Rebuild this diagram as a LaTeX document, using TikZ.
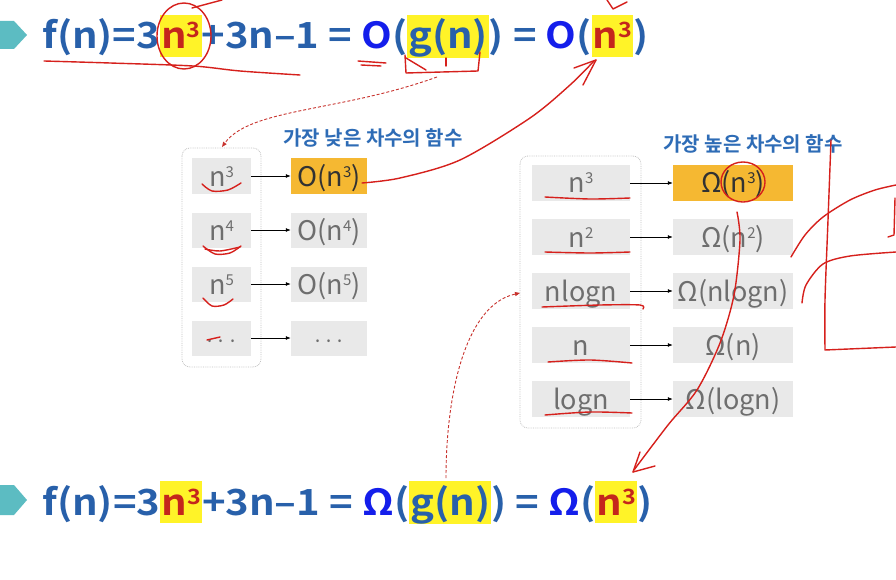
\documentclass[tikz,border=0pt]{standalone}
\usepackage{fontspec}
\usepackage{graphicx}
\setmainfont{Noto Sans CJK KR}[BoldFont={Noto Sans CJK KR Bold}]
\usetikzlibrary{arrows.meta}
\definecolor{fblue}{RGB}{40,96,170}
\definecolor{obright}{RGB}{20,30,235}
\definecolor{fred}{RGB}{196,38,28}
\definecolor{hly}{RGB}{255,243,40}
\definecolor{teal}{RGB}{92,188,194}
\definecolor{lblue}{RGB}{46,108,182}
\definecolor{boxgray}{RGB}{233,233,233}
\definecolor{boxorange}{RGB}{245,184,50}
\definecolor{txtgray}{RGB}{110,110,110}
\definecolor{annred}{RGB}{214,32,28}
\definecolor{dashred}{RGB}{200,50,45}
\definecolor{framegray}{RGB}{195,195,195}
\newcommand{\hl}[1]{{\setlength{\fboxsep}{0pt}\colorbox{hly}{\kern1pt\rule[-8pt]{0pt}{42pt}#1\kern1pt}}}
\newcommand{\supf}[1]{\raisebox{11pt}{\fontsize{21}{21}\selectfont #1}}
\newcommand{\supi}[1]{\raisebox{9pt}{\fontsize{15}{15}\selectfont #1}}
\tikzset{
  marker/.style={fill=teal, draw=none},
  formula/.style={anchor=base west, inner sep=0pt, text=fblue, font=\bfseries\fontsize{36}{36}\selectfont},
  lbl/.style={inner sep=0pt, text=lblue, font=\bfseries\fontsize{20}{20}\selectfont},
  grp/.style={draw=framegray, densely dotted, line width=0.8pt, rounded corners=8pt},
  itemL/.style={fill=boxgray, inner sep=0pt, text=txtgray, minimum width=59pt, text height=27.5pt, text depth=7.5pt, font=\fontsize{27}{27}\selectfont},
  resL/.style={itemL, minimum width=76pt},
  itemR/.style={fill=boxgray, inner sep=0pt, text=txtgray, minimum width=98pt, text height=28pt, text depth=8pt, font=\fontsize{27}{27}\selectfont},
  resR/.style={itemR, minimum width=120pt},
  hot/.style={fill=boxorange, text={rgb,255:red,50;green,50;blue,50}},
  conn/.style={draw=black, line width=0.8pt, -{Latex[length=5pt,width=4pt]}},
  ann/.style={draw=annred, line width=1.4pt, line cap=round, line join=round},
  dsh/.style={draw=dashred, line width=0.9pt, densely dashed, -{Triangle[length=5pt,width=4pt]}}
}
\begin{document}
\begin{tikzpicture}[x=1pt,y=-1pt]
\useasboundingbox (0,0) rectangle (896,580);
\fill[white] (0,0) rectangle (896,580);
% markers
\fill[marker] (0,21) -- (14,21) -- (27,35) -- (14,49) -- (0,49) -- cycle;
\fill[marker] (0,485) -- (14,485) -- (27,500) -- (14,515) -- (0,515) -- cycle;
% formulas
\node[formula] (f1) at (42,49) {\resizebox{606pt}{\height}{f(n)=3\hl{\textcolor{fred}{n\supf{3}}}+3n–1 = \textcolor{obright}{O}(\hl{g(n)}) = \textcolor{obright}{O}(\hl{\textcolor{fred}{n\supf{3}}})}};
\node[formula] (f2) at (42,515) {\resizebox{610pt}{\height}{f(n)=3\hl{\textcolor{fred}{n\supf{3}}}+3n–1 = \textcolor{obright}{Ω}(\hl{g(n)}) = \textcolor{obright}{Ω}(\hl{\textcolor{fred}{n\supf{3}}})}};
% labels
\node[lbl] (lab1) at (373,138) {가장 낮은 차수의 함수};
\node[lbl] (lab2) at (753,144) {가장 높은 차수의 함수};
% left group
\draw[grp] (182,148) rectangle (261,367);
\node[itemL] (a1) at (221.5,176) {n\supi{3}};
\node[itemL] (a2) at (221.5,230) {n\supi{4}};
\node[itemL] (a3) at (221.5,284) {n\supi{5}};
\node[itemL] (a4) at (221.5,338) {\fontsize{20}{20}\selectfont ···};
\node[resL,hot] (b1) at (329,176) {O(n\supi{3})};
\node[resL] (b2) at (329,230) {O(n\supi{4})};
\node[resL] (b3) at (329,284) {O(n\supi{5})};
\node[resL] (b4) at (329,338) {\fontsize{20}{20}\selectfont ···};
\foreach \i in {1,2,3,4} \draw[conn] (a\i) -- (b\i);
% right group
\draw[grp] (520,156) rectangle (641,428);
\node[itemR] (c1) at (581,183) {n\supi{3}};
\node[itemR] (c2) at (581,237) {n\supi{2}};
\node[itemR] (c3) at (581,291) {nlogn};
\node[itemR] (c4) at (581,345) {n};
\node[itemR] (c5) at (581,399) {logn};
\node[resR,hot] (d1) at (733,183) {Ω(n\supi{3})};
\node[resR] (d2) at (733,237) {Ω(n\supi{2})};
\node[resR] (d3) at (733,291) {Ω(nlogn)};
\node[resR] (d4) at (733,345) {Ω(n)};
\node[resR] (d5) at (733,399) {Ω(logn)};
\foreach \i in {1,2,3,4,5} \draw[conn] (c\i) -- (d\i);
% dashed arrows
\coordinate (gtop) at (437,77);
\coordinate (gbot) at (446,478);
\draw[dsh] (gtop) .. controls (340,112) and (250,108) .. (222,147);
\draw[dsh] (gbot) .. controls (446,395) and (465,305) .. (520,293);
% handwritten annotations: top formula
\draw[ann] plot[smooth] coordinates {(44,61) (110,63) (193,66) (240,71) (300,75)};
\draw[ann] (184,36) ellipse [x radius=27, y radius=33];
\draw[ann] (192,8) -- (222,0);
\draw[ann] (358,61) -- (386,63);
\draw[ann] (361,65) -- (381,66);
\draw[ann] (405,55) -- (406,73) -- (478,71) -- (480,52);
\draw[ann] (406,58) -- (426,70);
\draw[ann] (446,58) -- (446,66);
\draw[ann] (607,0) -- (613,9) -- (627,2);
% arrow from O(n^3) to top n^3
\draw[ann] plot[smooth] coordinates {(362,183) (400,178) (460,160) (530,118) (570,85) (594,61)};
\draw[ann] (596,60) -- (574,68);
\draw[ann] (596,60) -- (583,85);
% left curls
\draw[ann] plot[smooth] coordinates {(202,184) (212,191) (228,190) (241,183)};
\draw[ann] plot[smooth] coordinates {(203,246) (215,254) (230,253) (241,246)};
\draw[ann] plot[smooth] coordinates {(205,249) (220,251) (240,247)};
\draw[ann] plot[smooth] coordinates {(203,298) (212,306) (224,305) (233,299)};
\draw[ann] (207,340) -- (220,337);
% right underlines
\draw[ann] plot[smooth] coordinates {(545,197) (590,199) (630,198)};
\draw[ann] plot[smooth] coordinates {(545,252) (590,253) (630,252)};
\draw[ann] plot[smooth] coordinates {(542,307) (600,305) (640,305) (643,309)};
\draw[ann] plot[smooth] coordinates {(548,362) (590,360) (632,363)};
\draw[ann] plot[smooth] coordinates {(545,415) (590,412) (632,413)};
\draw[ann] (743,182) ellipse [x radius=22, y radius=20];
% long arrow to bottom n^3
\draw[ann] plot[smooth] coordinates {(737,212) (740,240) (734,295) (720,343) (697,390) (668,425) (634,470)};
\draw[ann] (633,472) -- (640,452);
\draw[ann] (633,472) -- (655,466);
% right side scribbles
\draw[ann] plot[smooth] coordinates {(831,140) (828,220) (825,300) (825,350)} -- (896,347);
\draw[ann] plot[smooth] coordinates {(791,257) (805,235) (823,217) (850,200) (875,190) (896,185)};
\draw[ann] plot[smooth] coordinates {(802,303) (806,285) (823,264) (850,256) (896,252)};
\draw[ann] (895,198) -- (894,235) -- (888,237);
\end{tikzpicture}
\end{document}
